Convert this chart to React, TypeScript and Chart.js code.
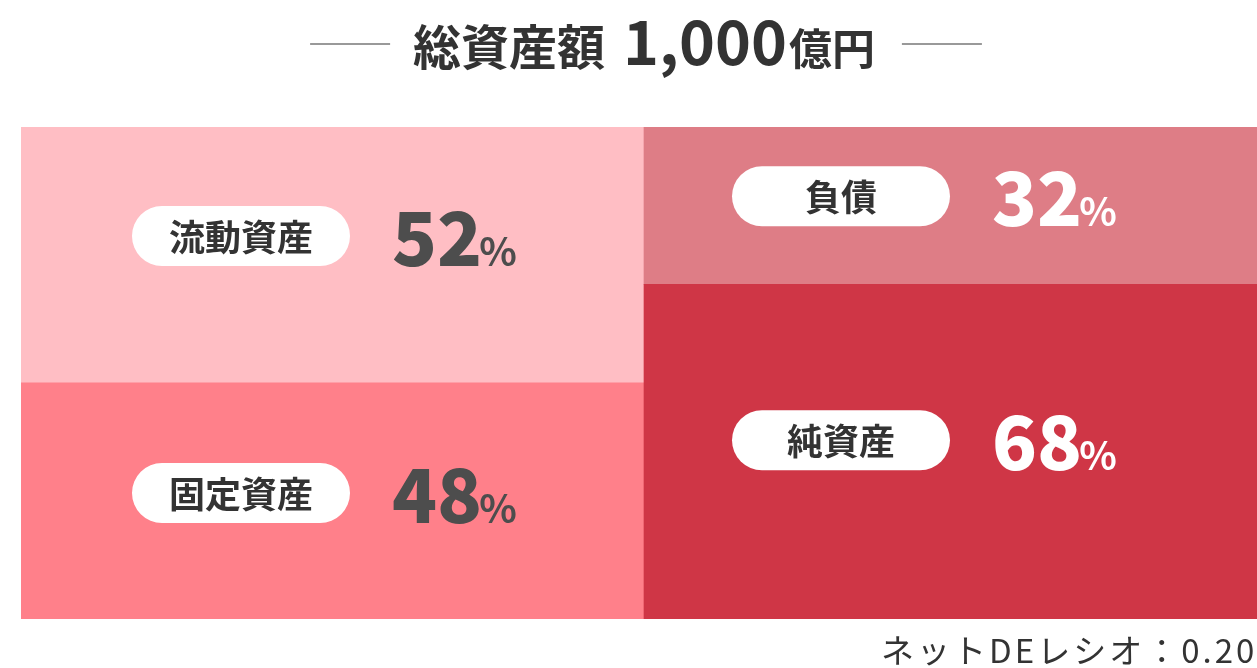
import { useEffect, useRef } from 'react';
import { Chart, registerables } from 'chart.js';

Chart.register(...registerables);

const sides = ['資産', '負債・純資産'];
const lowerLabels = ['固定資産', '純資産'];
const lowerValues = [48, 68];
const upperLabels = ['流動資産', '負債'];
const upperValues = [52, 32];
const titleLabel = '総資産額';
const totalAmount = '1,000';
const totalUnit = '億円';
const footnote = 'ネットDEレシオ：0.20';

const FONT = "'Noto Sans CJK JP', 'Noto Sans', sans-serif";

const lowerColors = ['#ff808a', '#cf3646'];
const upperColors = ['#ffbec4', '#de7d86'];
const valueColors = ['#4d4d4d', '#ffffff'];
// label placement tweaks (style only): per dataset, per bar
const dyOffsets = [
  [-8, -11.5],
  [-19, -9.5],
];
const dxOffsets = [-91.5, -114.5];

function roundRect(ctx: CanvasRenderingContext2D, x: number, y: number, w: number, h: number, r: number) {
  ctx.beginPath();
  ctx.moveTo(x + r, y);
  ctx.lineTo(x + w - r, y);
  ctx.arc(x + w - r, y + r, r, -Math.PI / 2, Math.PI / 2);
  ctx.lineTo(x + r, y + h);
  ctx.arc(x + r, y + r, r, Math.PI / 2, (3 * Math.PI) / 2);
  ctx.closePath();
}

const labelPlugin = {
  id: 'bsLabels',
  afterDatasetsDraw(chart: any) {
    const ctx: CanvasRenderingContext2D = chart.ctx;
    const names = [lowerLabels, upperLabels];
    const vals = [lowerValues, upperValues];
    ctx.save();
    for (let d = 0; d < 2; d++) {
      const meta = chart.getDatasetMeta(d);
      meta.data.forEach((el: any, j: number) => {
        const p = el.getProps(['x', 'y', 'base'], true);
        const top = Math.min(p.y, p.base);
        const bottom = Math.max(p.y, p.base);
        const cy = (top + bottom) / 2 + dyOffsets[d][j];
        const cx = p.x + dxOffsets[j];
        const pw = 218;
        const ph = 60;
        const px = cx - pw / 2;
        const py = cy - ph / 2;
        ctx.fillStyle = '#ffffff';
        roundRect(ctx, px, py, pw, ph, ph / 2);
        ctx.fill();
        ctx.fillStyle = '#333333';
        ctx.font = `bold 36px ${FONT}`;
        ctx.textAlign = 'center';
        ctx.textBaseline = 'middle';
        ctx.fillText(names[d][j], cx, cy + 1);
        // value
        ctx.textAlign = 'left';
        ctx.textBaseline = 'alphabetic';
        ctx.fillStyle = valueColors[j];
        ctx.font = `900 74px ${FONT}`;
        const numStr = String(vals[d][j]);
        const nx = px + pw + 42;
        const ny = cy + 30;
        ctx.fillText(numStr, nx, ny);
        const nw = ctx.measureText(numStr).width;
        ctx.font = `bold 39px ${FONT}`;
        ctx.fillText('%', nx + nw - 3, ny);
      });
    }
    ctx.restore();
  },
  afterDraw(chart: any) {
    const ctx: CanvasRenderingContext2D = chart.ctx;
    const area = chart.chartArea;
    const center = (area.left + area.right) / 2;
    ctx.save();
    ctx.textBaseline = 'alphabetic';
    ctx.textAlign = 'left';
    ctx.fillStyle = '#333333';
    const f1 = `bold 48px ${FONT}`;
    const f2 = `bold 61px ${FONT}`;
    const f3 = `bold 43px ${FONT}`;
    ctx.font = f1;
    const w1 = ctx.measureText(titleLabel).width;
    const gap = 18;
    ctx.font = f2;
    const w2 = ctx.measureText(totalAmount).width;
    ctx.font = f3;
    const w3 = ctx.measureText(totalUnit).width;
    const total = w1 + gap + w2 + 2 + w3;
    let x = center - total / 2;
    const base = 65;
    ctx.font = f1;
    ctx.fillText(titleLabel, x, base);
    const left = x;
    x += w1 + gap;
    ctx.font = f2;
    ctx.fillText(totalAmount, x, base);
    x += w2 + 2;
    ctx.font = f3;
    ctx.fillText(totalUnit, x, base);
    const right = x + w3;
    ctx.strokeStyle = '#999999';
    ctx.lineWidth = 2;
    ctx.beginPath();
    ctx.moveTo(left - 103, 44);
    ctx.lineTo(left - 23, 44);
    ctx.moveTo(right + 27, 44);
    ctx.lineTo(right + 107, 44);
    ctx.stroke();
    // footnote
    ctx.fillStyle = '#333333';
    ctx.font = `33px ${FONT}`;
    (ctx as any).letterSpacing = '3px';
    ctx.fillText(footnote, 881, 663);
    ctx.restore();
  },
};

export default function App() {
  const ref = useRef<HTMLCanvasElement>(null);
  useEffect(() => {
    if (!ref.current) return;
    const chart = new Chart(ref.current, {
      type: 'bar',
      data: {
        labels: sides,
        datasets: [
          {
            label: '下段',
            data: lowerValues,
            backgroundColor: lowerColors,
            borderWidth: 0,
            categoryPercentage: 1,
            barPercentage: 1,
          },
          {
            label: '上段',
            data: upperValues,
            backgroundColor: upperColors,
            borderWidth: 0,
            categoryPercentage: 1,
            barPercentage: 1,
          },
        ],
      },
      options: {
        responsive: false,
        animation: false,
        layout: { padding: { left: 21, right: 21, top: 127, bottom: 49 } },
        scales: {
          x: { stacked: true, display: false },
          y: { stacked: true, display: false, min: 0, max: 100 },
        },
        plugins: {
          legend: { display: false },
          tooltip: { enabled: false },
        },
      },
      plugins: [labelPlugin],
    });
    return () => chart.destroy();
  }, []);
  return (
    <div
      style={{
        position: 'fixed',
        left: 0,
        top: 0,
        width: 1257,
        height: 668,
        overflow: 'hidden',
        background: '#ffffff',
      }}
    >
      <canvas ref={ref} width={1288} height={668} style={{ display: 'block' }} />
    </div>
  );
}
